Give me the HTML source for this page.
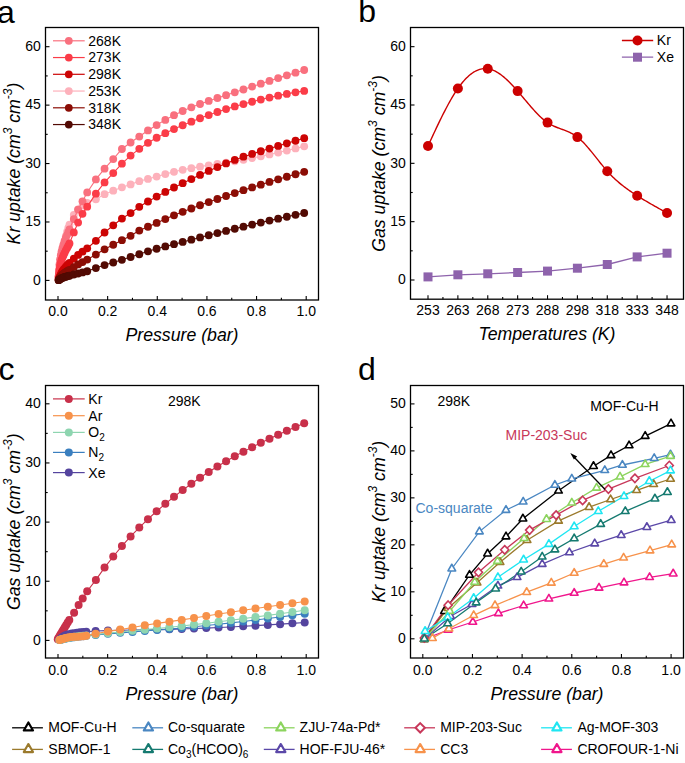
<!DOCTYPE html>
<html><head><meta charset="utf-8"><style>
html,body{margin:0;padding:0;background:#fff;}
svg{display:block;font-family:'Liberation Sans',sans-serif;}

</style></head><body>
<svg fill="#000" width="685" height="763" viewBox="0 0 685 763">
<rect width="685" height="763" fill="#fff"/>
<rect x="45.5" y="27.5" width="273.0" height="272.5" fill="none" stroke="#000" stroke-width="1.3"/>
<line x1="58.0" y1="300" x2="58.0" y2="296" stroke="#000" stroke-width="1.1"/>
<line x1="107.64" y1="300" x2="107.64" y2="296" stroke="#000" stroke-width="1.1"/>
<line x1="157.28" y1="300" x2="157.28" y2="296" stroke="#000" stroke-width="1.1"/>
<line x1="206.92" y1="300" x2="206.92" y2="296" stroke="#000" stroke-width="1.1"/>
<line x1="256.56" y1="300" x2="256.56" y2="296" stroke="#000" stroke-width="1.1"/>
<line x1="306.2" y1="300" x2="306.2" y2="296" stroke="#000" stroke-width="1.1"/>
<line x1="82.82" y1="300" x2="82.82" y2="297.8" stroke="#000" stroke-width="1.1"/>
<line x1="132.45999999999998" y1="300" x2="132.45999999999998" y2="297.8" stroke="#000" stroke-width="1.1"/>
<line x1="182.1" y1="300" x2="182.1" y2="297.8" stroke="#000" stroke-width="1.1"/>
<line x1="231.73999999999998" y1="300" x2="231.73999999999998" y2="297.8" stroke="#000" stroke-width="1.1"/>
<line x1="281.38" y1="300" x2="281.38" y2="297.8" stroke="#000" stroke-width="1.1"/>
<text x="58.0" y="315.7" font-size="14" text-anchor="middle">0.0</text>
<text x="107.64" y="315.7" font-size="14" text-anchor="middle">0.2</text>
<text x="157.28" y="315.7" font-size="14" text-anchor="middle">0.4</text>
<text x="206.92" y="315.7" font-size="14" text-anchor="middle">0.6</text>
<text x="256.56" y="315.7" font-size="14" text-anchor="middle">0.8</text>
<text x="306.2" y="315.7" font-size="14" text-anchor="middle">1.0</text>
<line x1="45.5" y1="280.4" x2="49.5" y2="280.4" stroke="#000" stroke-width="1.1"/>
<line x1="45.5" y1="221.97499999999997" x2="49.5" y2="221.97499999999997" stroke="#000" stroke-width="1.1"/>
<line x1="45.5" y1="163.54999999999998" x2="49.5" y2="163.54999999999998" stroke="#000" stroke-width="1.1"/>
<line x1="45.5" y1="105.12499999999997" x2="49.5" y2="105.12499999999997" stroke="#000" stroke-width="1.1"/>
<line x1="45.5" y1="46.69999999999999" x2="49.5" y2="46.69999999999999" stroke="#000" stroke-width="1.1"/>
<line x1="45.5" y1="251.18749999999997" x2="47.7" y2="251.18749999999997" stroke="#000" stroke-width="1.1"/>
<line x1="45.5" y1="192.7625" x2="47.7" y2="192.7625" stroke="#000" stroke-width="1.1"/>
<line x1="45.5" y1="134.33749999999998" x2="47.7" y2="134.33749999999998" stroke="#000" stroke-width="1.1"/>
<line x1="45.5" y1="75.91249999999997" x2="47.7" y2="75.91249999999997" stroke="#000" stroke-width="1.1"/>
<text x="40.9" y="284.70" font-size="14" text-anchor="end">0</text>
<text x="40.9" y="226.27" font-size="14" text-anchor="end">15</text>
<text x="40.9" y="167.85" font-size="14" text-anchor="end">30</text>
<text x="40.9" y="109.42" font-size="14" text-anchor="end">45</text>
<text x="40.9" y="51.00" font-size="14" text-anchor="end">60</text>
<text x="182" y="341" font-size="17.7" font-style="italic" text-anchor="middle">Pressure (bar)</text>
<text transform="translate(19.7,163.5) rotate(-90)" x="0" y="0" font-size="17.7" font-style="italic" text-anchor="middle">Kr uptake (cm<tspan dy="-7.5" font-size="12">3</tspan><tspan dy="7.5"> cm</tspan><tspan dy="-7.5" font-size="12">-3</tspan><tspan dy="7.5">)</tspan></text>
<text x="-3.1" y="23" font-size="32">a</text>
<polyline points="58.60,276.62 59.00,271.73 59.50,266.26 60.10,261.31 60.80,256.97 61.60,252.83 62.50,248.90 63.50,244.96 64.60,240.64 65.80,236.14 67.10,231.66 68.30,227.95 69.50,224.68 73.80,214.90 78.10,209.32 82.50,205.64 87.20,202.86 95.88,199.35 104.56,194.22 113.24,190.70 121.92,187.28 130.60,184.46 139.28,181.14 147.96,178.91 156.64,176.54 165.32,174.12 174.00,171.81 182.68,169.80 191.36,168.13 200.04,166.65 208.72,165.30 217.40,164.00 226.08,162.69 234.76,161.30 243.44,159.75 252.12,158.07 260.80,156.30 269.48,154.45 278.16,152.53 286.84,150.54 295.52,148.47 304.20,146.35" fill="none" stroke="#FDB1BB" stroke-width="1.1" stroke-opacity="1"/>
<circle cx="58.60" cy="276.62" r="3.9" fill="#FDB1BB"/>
<circle cx="59.00" cy="271.73" r="3.9" fill="#FDB1BB"/>
<circle cx="59.50" cy="266.26" r="3.9" fill="#FDB1BB"/>
<circle cx="60.10" cy="261.31" r="3.9" fill="#FDB1BB"/>
<circle cx="60.80" cy="256.97" r="3.9" fill="#FDB1BB"/>
<circle cx="61.60" cy="252.83" r="3.9" fill="#FDB1BB"/>
<circle cx="62.50" cy="248.90" r="3.9" fill="#FDB1BB"/>
<circle cx="63.50" cy="244.96" r="3.9" fill="#FDB1BB"/>
<circle cx="64.60" cy="240.64" r="3.9" fill="#FDB1BB"/>
<circle cx="65.80" cy="236.14" r="3.9" fill="#FDB1BB"/>
<circle cx="67.10" cy="231.66" r="3.9" fill="#FDB1BB"/>
<circle cx="68.30" cy="227.95" r="3.9" fill="#FDB1BB"/>
<circle cx="69.50" cy="224.68" r="3.9" fill="#FDB1BB"/>
<circle cx="73.80" cy="214.90" r="3.9" fill="#FDB1BB"/>
<circle cx="78.10" cy="209.32" r="3.9" fill="#FDB1BB"/>
<circle cx="82.50" cy="205.64" r="3.9" fill="#FDB1BB"/>
<circle cx="87.20" cy="202.86" r="3.9" fill="#FDB1BB"/>
<circle cx="95.88" cy="199.35" r="3.9" fill="#FDB1BB"/>
<circle cx="104.56" cy="194.22" r="3.9" fill="#FDB1BB"/>
<circle cx="113.24" cy="190.70" r="3.9" fill="#FDB1BB"/>
<circle cx="121.92" cy="187.28" r="3.9" fill="#FDB1BB"/>
<circle cx="130.60" cy="184.46" r="3.9" fill="#FDB1BB"/>
<circle cx="139.28" cy="181.14" r="3.9" fill="#FDB1BB"/>
<circle cx="147.96" cy="178.91" r="3.9" fill="#FDB1BB"/>
<circle cx="156.64" cy="176.54" r="3.9" fill="#FDB1BB"/>
<circle cx="165.32" cy="174.12" r="3.9" fill="#FDB1BB"/>
<circle cx="174.00" cy="171.81" r="3.9" fill="#FDB1BB"/>
<circle cx="182.68" cy="169.80" r="3.9" fill="#FDB1BB"/>
<circle cx="191.36" cy="168.13" r="3.9" fill="#FDB1BB"/>
<circle cx="200.04" cy="166.65" r="3.9" fill="#FDB1BB"/>
<circle cx="208.72" cy="165.30" r="3.9" fill="#FDB1BB"/>
<circle cx="217.40" cy="164.00" r="3.9" fill="#FDB1BB"/>
<circle cx="226.08" cy="162.69" r="3.9" fill="#FDB1BB"/>
<circle cx="234.76" cy="161.30" r="3.9" fill="#FDB1BB"/>
<circle cx="243.44" cy="159.75" r="3.9" fill="#FDB1BB"/>
<circle cx="252.12" cy="158.07" r="3.9" fill="#FDB1BB"/>
<circle cx="260.80" cy="156.30" r="3.9" fill="#FDB1BB"/>
<circle cx="269.48" cy="154.45" r="3.9" fill="#FDB1BB"/>
<circle cx="278.16" cy="152.53" r="3.9" fill="#FDB1BB"/>
<circle cx="286.84" cy="150.54" r="3.9" fill="#FDB1BB"/>
<circle cx="295.52" cy="148.47" r="3.9" fill="#FDB1BB"/>
<circle cx="304.20" cy="146.35" r="3.9" fill="#FDB1BB"/>
<polyline points="58.60,276.10 59.00,270.54 59.50,264.44 60.10,259.34 60.80,255.21 61.60,251.37 62.50,247.88 63.50,244.58 64.60,241.17 65.80,237.93 67.10,234.84 68.30,232.13 69.50,229.34 73.80,219.08 78.10,209.59 82.50,201.30 87.20,192.46 95.88,179.45 104.56,168.65 113.24,159.07 121.92,148.98 130.60,142.50 139.28,136.57 147.96,130.47 156.64,125.03 165.32,119.89 174.00,115.17 182.68,111.01 191.36,107.35 200.04,104.01 208.72,100.91 217.40,97.99 226.08,95.16 234.76,92.35 243.44,89.49 252.12,86.58 260.80,83.72 269.48,80.89 278.16,78.11 286.84,75.36 295.52,72.66 304.20,70.00" fill="none" stroke="#F9707E" stroke-width="1.1" stroke-opacity="1"/>
<circle cx="58.60" cy="276.10" r="3.9" fill="#F9707E"/>
<circle cx="59.00" cy="270.54" r="3.9" fill="#F9707E"/>
<circle cx="59.50" cy="264.44" r="3.9" fill="#F9707E"/>
<circle cx="60.10" cy="259.34" r="3.9" fill="#F9707E"/>
<circle cx="60.80" cy="255.21" r="3.9" fill="#F9707E"/>
<circle cx="61.60" cy="251.37" r="3.9" fill="#F9707E"/>
<circle cx="62.50" cy="247.88" r="3.9" fill="#F9707E"/>
<circle cx="63.50" cy="244.58" r="3.9" fill="#F9707E"/>
<circle cx="64.60" cy="241.17" r="3.9" fill="#F9707E"/>
<circle cx="65.80" cy="237.93" r="3.9" fill="#F9707E"/>
<circle cx="67.10" cy="234.84" r="3.9" fill="#F9707E"/>
<circle cx="68.30" cy="232.13" r="3.9" fill="#F9707E"/>
<circle cx="69.50" cy="229.34" r="3.9" fill="#F9707E"/>
<circle cx="73.80" cy="219.08" r="3.9" fill="#F9707E"/>
<circle cx="78.10" cy="209.59" r="3.9" fill="#F9707E"/>
<circle cx="82.50" cy="201.30" r="3.9" fill="#F9707E"/>
<circle cx="87.20" cy="192.46" r="3.9" fill="#F9707E"/>
<circle cx="95.88" cy="179.45" r="3.9" fill="#F9707E"/>
<circle cx="104.56" cy="168.65" r="3.9" fill="#F9707E"/>
<circle cx="113.24" cy="159.07" r="3.9" fill="#F9707E"/>
<circle cx="121.92" cy="148.98" r="3.9" fill="#F9707E"/>
<circle cx="130.60" cy="142.50" r="3.9" fill="#F9707E"/>
<circle cx="139.28" cy="136.57" r="3.9" fill="#F9707E"/>
<circle cx="147.96" cy="130.47" r="3.9" fill="#F9707E"/>
<circle cx="156.64" cy="125.03" r="3.9" fill="#F9707E"/>
<circle cx="165.32" cy="119.89" r="3.9" fill="#F9707E"/>
<circle cx="174.00" cy="115.17" r="3.9" fill="#F9707E"/>
<circle cx="182.68" cy="111.01" r="3.9" fill="#F9707E"/>
<circle cx="191.36" cy="107.35" r="3.9" fill="#F9707E"/>
<circle cx="200.04" cy="104.01" r="3.9" fill="#F9707E"/>
<circle cx="208.72" cy="100.91" r="3.9" fill="#F9707E"/>
<circle cx="217.40" cy="97.99" r="3.9" fill="#F9707E"/>
<circle cx="226.08" cy="95.16" r="3.9" fill="#F9707E"/>
<circle cx="234.76" cy="92.35" r="3.9" fill="#F9707E"/>
<circle cx="243.44" cy="89.49" r="3.9" fill="#F9707E"/>
<circle cx="252.12" cy="86.58" r="3.9" fill="#F9707E"/>
<circle cx="260.80" cy="83.72" r="3.9" fill="#F9707E"/>
<circle cx="269.48" cy="80.89" r="3.9" fill="#F9707E"/>
<circle cx="278.16" cy="78.11" r="3.9" fill="#F9707E"/>
<circle cx="286.84" cy="75.36" r="3.9" fill="#F9707E"/>
<circle cx="295.52" cy="72.66" r="3.9" fill="#F9707E"/>
<circle cx="304.20" cy="70.00" r="3.9" fill="#F9707E"/>
<polyline points="58.60,277.40 59.00,273.46 59.50,269.12 60.10,265.55 60.80,262.69 61.60,260.01 62.50,257.55 63.50,255.25 64.60,252.89 65.80,250.30 67.10,247.88 68.30,245.77 69.50,243.46 73.80,232.46 78.10,222.57 82.50,213.84 87.20,206.65 95.88,193.65 104.56,182.46 113.24,173.07 121.92,163.68 130.60,155.60 139.28,148.87 147.96,142.78 156.64,137.76 165.32,133.20 174.00,129.05 182.68,125.26 191.36,121.68 200.04,118.27 208.72,115.03 217.40,111.98 226.08,109.12 234.76,106.47 243.44,104.04 252.12,101.76 260.80,99.59 269.48,97.55 278.16,95.64 286.84,93.88 295.52,92.30 304.20,90.91" fill="none" stroke="#FB3C48" stroke-width="1.1" stroke-opacity="1"/>
<circle cx="58.60" cy="277.40" r="3.9" fill="#FB3C48"/>
<circle cx="59.00" cy="273.46" r="3.9" fill="#FB3C48"/>
<circle cx="59.50" cy="269.12" r="3.9" fill="#FB3C48"/>
<circle cx="60.10" cy="265.55" r="3.9" fill="#FB3C48"/>
<circle cx="60.80" cy="262.69" r="3.9" fill="#FB3C48"/>
<circle cx="61.60" cy="260.01" r="3.9" fill="#FB3C48"/>
<circle cx="62.50" cy="257.55" r="3.9" fill="#FB3C48"/>
<circle cx="63.50" cy="255.25" r="3.9" fill="#FB3C48"/>
<circle cx="64.60" cy="252.89" r="3.9" fill="#FB3C48"/>
<circle cx="65.80" cy="250.30" r="3.9" fill="#FB3C48"/>
<circle cx="67.10" cy="247.88" r="3.9" fill="#FB3C48"/>
<circle cx="68.30" cy="245.77" r="3.9" fill="#FB3C48"/>
<circle cx="69.50" cy="243.46" r="3.9" fill="#FB3C48"/>
<circle cx="73.80" cy="232.46" r="3.9" fill="#FB3C48"/>
<circle cx="78.10" cy="222.57" r="3.9" fill="#FB3C48"/>
<circle cx="82.50" cy="213.84" r="3.9" fill="#FB3C48"/>
<circle cx="87.20" cy="206.65" r="3.9" fill="#FB3C48"/>
<circle cx="95.88" cy="193.65" r="3.9" fill="#FB3C48"/>
<circle cx="104.56" cy="182.46" r="3.9" fill="#FB3C48"/>
<circle cx="113.24" cy="173.07" r="3.9" fill="#FB3C48"/>
<circle cx="121.92" cy="163.68" r="3.9" fill="#FB3C48"/>
<circle cx="130.60" cy="155.60" r="3.9" fill="#FB3C48"/>
<circle cx="139.28" cy="148.87" r="3.9" fill="#FB3C48"/>
<circle cx="147.96" cy="142.78" r="3.9" fill="#FB3C48"/>
<circle cx="156.64" cy="137.76" r="3.9" fill="#FB3C48"/>
<circle cx="165.32" cy="133.20" r="3.9" fill="#FB3C48"/>
<circle cx="174.00" cy="129.05" r="3.9" fill="#FB3C48"/>
<circle cx="182.68" cy="125.26" r="3.9" fill="#FB3C48"/>
<circle cx="191.36" cy="121.68" r="3.9" fill="#FB3C48"/>
<circle cx="200.04" cy="118.27" r="3.9" fill="#FB3C48"/>
<circle cx="208.72" cy="115.03" r="3.9" fill="#FB3C48"/>
<circle cx="217.40" cy="111.98" r="3.9" fill="#FB3C48"/>
<circle cx="226.08" cy="109.12" r="3.9" fill="#FB3C48"/>
<circle cx="234.76" cy="106.47" r="3.9" fill="#FB3C48"/>
<circle cx="243.44" cy="104.04" r="3.9" fill="#FB3C48"/>
<circle cx="252.12" cy="101.76" r="3.9" fill="#FB3C48"/>
<circle cx="260.80" cy="99.59" r="3.9" fill="#FB3C48"/>
<circle cx="269.48" cy="97.55" r="3.9" fill="#FB3C48"/>
<circle cx="278.16" cy="95.64" r="3.9" fill="#FB3C48"/>
<circle cx="286.84" cy="93.88" r="3.9" fill="#FB3C48"/>
<circle cx="295.52" cy="92.30" r="3.9" fill="#FB3C48"/>
<circle cx="304.20" cy="90.91" r="3.9" fill="#FB3C48"/>
<polyline points="58.60,279.62 59.00,278.58 59.50,277.32 60.10,275.86 60.80,274.28 61.60,272.69 62.50,271.21 63.50,269.76 64.60,268.32 65.80,266.90 67.10,265.49 68.30,264.25 69.50,263.02 73.80,258.71 78.10,254.92 82.50,251.71 87.20,248.30 95.88,240.78 104.56,232.49 113.24,225.35 121.92,218.55 130.60,213.10 139.28,206.78 147.96,201.49 156.64,196.62 165.32,191.95 174.00,187.48 182.68,183.21 191.36,179.05 200.04,174.94 208.72,170.94 217.40,167.08 226.08,163.39 234.76,159.92 243.44,156.72 252.12,153.96 260.80,151.26 269.48,148.58 278.16,145.93 286.84,143.32 295.52,140.74 304.20,138.20" fill="none" stroke="#CC0404" stroke-width="1.1" stroke-opacity="1"/>
<circle cx="58.60" cy="279.62" r="3.9" fill="#CC0404"/>
<circle cx="59.00" cy="278.58" r="3.9" fill="#CC0404"/>
<circle cx="59.50" cy="277.32" r="3.9" fill="#CC0404"/>
<circle cx="60.10" cy="275.86" r="3.9" fill="#CC0404"/>
<circle cx="60.80" cy="274.28" r="3.9" fill="#CC0404"/>
<circle cx="61.60" cy="272.69" r="3.9" fill="#CC0404"/>
<circle cx="62.50" cy="271.21" r="3.9" fill="#CC0404"/>
<circle cx="63.50" cy="269.76" r="3.9" fill="#CC0404"/>
<circle cx="64.60" cy="268.32" r="3.9" fill="#CC0404"/>
<circle cx="65.80" cy="266.90" r="3.9" fill="#CC0404"/>
<circle cx="67.10" cy="265.49" r="3.9" fill="#CC0404"/>
<circle cx="68.30" cy="264.25" r="3.9" fill="#CC0404"/>
<circle cx="69.50" cy="263.02" r="3.9" fill="#CC0404"/>
<circle cx="73.80" cy="258.71" r="3.9" fill="#CC0404"/>
<circle cx="78.10" cy="254.92" r="3.9" fill="#CC0404"/>
<circle cx="82.50" cy="251.71" r="3.9" fill="#CC0404"/>
<circle cx="87.20" cy="248.30" r="3.9" fill="#CC0404"/>
<circle cx="95.88" cy="240.78" r="3.9" fill="#CC0404"/>
<circle cx="104.56" cy="232.49" r="3.9" fill="#CC0404"/>
<circle cx="113.24" cy="225.35" r="3.9" fill="#CC0404"/>
<circle cx="121.92" cy="218.55" r="3.9" fill="#CC0404"/>
<circle cx="130.60" cy="213.10" r="3.9" fill="#CC0404"/>
<circle cx="139.28" cy="206.78" r="3.9" fill="#CC0404"/>
<circle cx="147.96" cy="201.49" r="3.9" fill="#CC0404"/>
<circle cx="156.64" cy="196.62" r="3.9" fill="#CC0404"/>
<circle cx="165.32" cy="191.95" r="3.9" fill="#CC0404"/>
<circle cx="174.00" cy="187.48" r="3.9" fill="#CC0404"/>
<circle cx="182.68" cy="183.21" r="3.9" fill="#CC0404"/>
<circle cx="191.36" cy="179.05" r="3.9" fill="#CC0404"/>
<circle cx="200.04" cy="174.94" r="3.9" fill="#CC0404"/>
<circle cx="208.72" cy="170.94" r="3.9" fill="#CC0404"/>
<circle cx="217.40" cy="167.08" r="3.9" fill="#CC0404"/>
<circle cx="226.08" cy="163.39" r="3.9" fill="#CC0404"/>
<circle cx="234.76" cy="159.92" r="3.9" fill="#CC0404"/>
<circle cx="243.44" cy="156.72" r="3.9" fill="#CC0404"/>
<circle cx="252.12" cy="153.96" r="3.9" fill="#CC0404"/>
<circle cx="260.80" cy="151.26" r="3.9" fill="#CC0404"/>
<circle cx="269.48" cy="148.58" r="3.9" fill="#CC0404"/>
<circle cx="278.16" cy="145.93" r="3.9" fill="#CC0404"/>
<circle cx="286.84" cy="143.32" r="3.9" fill="#CC0404"/>
<circle cx="295.52" cy="140.74" r="3.9" fill="#CC0404"/>
<circle cx="304.20" cy="138.20" r="3.9" fill="#CC0404"/>
<polyline points="58.60,279.89 59.00,279.21 59.50,278.39 60.10,277.44 60.80,276.42 61.60,275.42 62.50,274.53 63.50,273.67 64.60,272.85 65.80,272.05 67.10,271.26 68.30,270.55 69.50,269.82 73.80,267.05 78.10,264.44 82.50,262.10 87.20,259.62 95.88,254.59 104.56,249.34 113.24,244.73 121.92,240.19 130.60,235.80 139.28,230.61 147.96,226.74 156.64,222.90 165.32,219.07 174.00,215.35 182.68,211.83 191.36,208.49 200.04,205.24 208.72,202.09 217.40,199.01 226.08,196.01 234.76,193.08 243.44,190.21 252.12,187.39 260.80,184.63 269.48,181.94 278.16,179.31 286.84,176.76 295.52,174.26 304.20,171.83" fill="none" stroke="#8B0D05" stroke-width="1.1" stroke-opacity="1"/>
<circle cx="58.60" cy="279.89" r="3.9" fill="#8B0D05"/>
<circle cx="59.00" cy="279.21" r="3.9" fill="#8B0D05"/>
<circle cx="59.50" cy="278.39" r="3.9" fill="#8B0D05"/>
<circle cx="60.10" cy="277.44" r="3.9" fill="#8B0D05"/>
<circle cx="60.80" cy="276.42" r="3.9" fill="#8B0D05"/>
<circle cx="61.60" cy="275.42" r="3.9" fill="#8B0D05"/>
<circle cx="62.50" cy="274.53" r="3.9" fill="#8B0D05"/>
<circle cx="63.50" cy="273.67" r="3.9" fill="#8B0D05"/>
<circle cx="64.60" cy="272.85" r="3.9" fill="#8B0D05"/>
<circle cx="65.80" cy="272.05" r="3.9" fill="#8B0D05"/>
<circle cx="67.10" cy="271.26" r="3.9" fill="#8B0D05"/>
<circle cx="68.30" cy="270.55" r="3.9" fill="#8B0D05"/>
<circle cx="69.50" cy="269.82" r="3.9" fill="#8B0D05"/>
<circle cx="73.80" cy="267.05" r="3.9" fill="#8B0D05"/>
<circle cx="78.10" cy="264.44" r="3.9" fill="#8B0D05"/>
<circle cx="82.50" cy="262.10" r="3.9" fill="#8B0D05"/>
<circle cx="87.20" cy="259.62" r="3.9" fill="#8B0D05"/>
<circle cx="95.88" cy="254.59" r="3.9" fill="#8B0D05"/>
<circle cx="104.56" cy="249.34" r="3.9" fill="#8B0D05"/>
<circle cx="113.24" cy="244.73" r="3.9" fill="#8B0D05"/>
<circle cx="121.92" cy="240.19" r="3.9" fill="#8B0D05"/>
<circle cx="130.60" cy="235.80" r="3.9" fill="#8B0D05"/>
<circle cx="139.28" cy="230.61" r="3.9" fill="#8B0D05"/>
<circle cx="147.96" cy="226.74" r="3.9" fill="#8B0D05"/>
<circle cx="156.64" cy="222.90" r="3.9" fill="#8B0D05"/>
<circle cx="165.32" cy="219.07" r="3.9" fill="#8B0D05"/>
<circle cx="174.00" cy="215.35" r="3.9" fill="#8B0D05"/>
<circle cx="182.68" cy="211.83" r="3.9" fill="#8B0D05"/>
<circle cx="191.36" cy="208.49" r="3.9" fill="#8B0D05"/>
<circle cx="200.04" cy="205.24" r="3.9" fill="#8B0D05"/>
<circle cx="208.72" cy="202.09" r="3.9" fill="#8B0D05"/>
<circle cx="217.40" cy="199.01" r="3.9" fill="#8B0D05"/>
<circle cx="226.08" cy="196.01" r="3.9" fill="#8B0D05"/>
<circle cx="234.76" cy="193.08" r="3.9" fill="#8B0D05"/>
<circle cx="243.44" cy="190.21" r="3.9" fill="#8B0D05"/>
<circle cx="252.12" cy="187.39" r="3.9" fill="#8B0D05"/>
<circle cx="260.80" cy="184.63" r="3.9" fill="#8B0D05"/>
<circle cx="269.48" cy="181.94" r="3.9" fill="#8B0D05"/>
<circle cx="278.16" cy="179.31" r="3.9" fill="#8B0D05"/>
<circle cx="286.84" cy="176.76" r="3.9" fill="#8B0D05"/>
<circle cx="295.52" cy="174.26" r="3.9" fill="#8B0D05"/>
<circle cx="304.20" cy="171.83" r="3.9" fill="#8B0D05"/>
<polyline points="58.60,280.17 59.00,279.87 59.50,279.51 60.10,279.09 60.80,278.64 61.60,278.19 62.50,277.79 63.50,277.40 64.60,277.02 65.80,276.65 67.10,276.28 68.30,275.96 69.50,275.64 73.80,274.52 78.10,273.48 82.50,272.46 87.20,271.25 95.88,268.04 104.56,265.06 113.24,262.52 121.92,259.83 130.60,257.00 139.28,254.24 147.96,251.29 156.64,248.76 165.32,246.42 174.00,244.18 182.68,241.95 191.36,239.70 200.04,237.46 208.72,235.24 217.40,233.05 226.08,230.89 234.76,228.75 243.44,226.65 252.12,224.60 260.80,222.58 269.48,220.60 278.16,218.65 286.84,216.74 295.52,214.86 304.20,213.02" fill="none" stroke="#520A03" stroke-width="1.1" stroke-opacity="1"/>
<circle cx="58.60" cy="280.17" r="3.9" fill="#520A03"/>
<circle cx="59.00" cy="279.87" r="3.9" fill="#520A03"/>
<circle cx="59.50" cy="279.51" r="3.9" fill="#520A03"/>
<circle cx="60.10" cy="279.09" r="3.9" fill="#520A03"/>
<circle cx="60.80" cy="278.64" r="3.9" fill="#520A03"/>
<circle cx="61.60" cy="278.19" r="3.9" fill="#520A03"/>
<circle cx="62.50" cy="277.79" r="3.9" fill="#520A03"/>
<circle cx="63.50" cy="277.40" r="3.9" fill="#520A03"/>
<circle cx="64.60" cy="277.02" r="3.9" fill="#520A03"/>
<circle cx="65.80" cy="276.65" r="3.9" fill="#520A03"/>
<circle cx="67.10" cy="276.28" r="3.9" fill="#520A03"/>
<circle cx="68.30" cy="275.96" r="3.9" fill="#520A03"/>
<circle cx="69.50" cy="275.64" r="3.9" fill="#520A03"/>
<circle cx="73.80" cy="274.52" r="3.9" fill="#520A03"/>
<circle cx="78.10" cy="273.48" r="3.9" fill="#520A03"/>
<circle cx="82.50" cy="272.46" r="3.9" fill="#520A03"/>
<circle cx="87.20" cy="271.25" r="3.9" fill="#520A03"/>
<circle cx="95.88" cy="268.04" r="3.9" fill="#520A03"/>
<circle cx="104.56" cy="265.06" r="3.9" fill="#520A03"/>
<circle cx="113.24" cy="262.52" r="3.9" fill="#520A03"/>
<circle cx="121.92" cy="259.83" r="3.9" fill="#520A03"/>
<circle cx="130.60" cy="257.00" r="3.9" fill="#520A03"/>
<circle cx="139.28" cy="254.24" r="3.9" fill="#520A03"/>
<circle cx="147.96" cy="251.29" r="3.9" fill="#520A03"/>
<circle cx="156.64" cy="248.76" r="3.9" fill="#520A03"/>
<circle cx="165.32" cy="246.42" r="3.9" fill="#520A03"/>
<circle cx="174.00" cy="244.18" r="3.9" fill="#520A03"/>
<circle cx="182.68" cy="241.95" r="3.9" fill="#520A03"/>
<circle cx="191.36" cy="239.70" r="3.9" fill="#520A03"/>
<circle cx="200.04" cy="237.46" r="3.9" fill="#520A03"/>
<circle cx="208.72" cy="235.24" r="3.9" fill="#520A03"/>
<circle cx="217.40" cy="233.05" r="3.9" fill="#520A03"/>
<circle cx="226.08" cy="230.89" r="3.9" fill="#520A03"/>
<circle cx="234.76" cy="228.75" r="3.9" fill="#520A03"/>
<circle cx="243.44" cy="226.65" r="3.9" fill="#520A03"/>
<circle cx="252.12" cy="224.60" r="3.9" fill="#520A03"/>
<circle cx="260.80" cy="222.58" r="3.9" fill="#520A03"/>
<circle cx="269.48" cy="220.60" r="3.9" fill="#520A03"/>
<circle cx="278.16" cy="218.65" r="3.9" fill="#520A03"/>
<circle cx="286.84" cy="216.74" r="3.9" fill="#520A03"/>
<circle cx="295.52" cy="214.86" r="3.9" fill="#520A03"/>
<circle cx="304.20" cy="213.02" r="3.9" fill="#520A03"/>
<line x1="53" y1="40.8" x2="84.7" y2="40.8" stroke="#F9707E" stroke-width="1.2"/>
<circle cx="68.8" cy="40.8" r="3.9" fill="#F9707E"/>
<text x="88.3" y="45.70" font-size="14">268K</text>
<line x1="53" y1="57.55" x2="84.7" y2="57.55" stroke="#FB3C48" stroke-width="1.2"/>
<circle cx="68.8" cy="57.55" r="3.9" fill="#FB3C48"/>
<text x="88.3" y="62.45" font-size="14">273K</text>
<line x1="53" y1="74.3" x2="84.7" y2="74.3" stroke="#CC0404" stroke-width="1.2"/>
<circle cx="68.8" cy="74.3" r="3.9" fill="#CC0404"/>
<text x="88.3" y="79.20" font-size="14">298K</text>
<line x1="53" y1="91.05" x2="84.7" y2="91.05" stroke="#FDB1BB" stroke-width="1.2"/>
<circle cx="68.8" cy="91.05" r="3.9" fill="#FDB1BB"/>
<text x="88.3" y="95.95" font-size="14">253K</text>
<line x1="53" y1="107.8" x2="84.7" y2="107.8" stroke="#8B0D05" stroke-width="1.2"/>
<circle cx="68.8" cy="107.8" r="3.9" fill="#8B0D05"/>
<text x="88.3" y="112.70" font-size="14">318K</text>
<line x1="53" y1="124.55" x2="84.7" y2="124.55" stroke="#520A03" stroke-width="1.2"/>
<circle cx="68.8" cy="124.55" r="3.9" fill="#520A03"/>
<text x="88.3" y="129.45" font-size="14">348K</text>
<rect x="410.5" y="27.5" width="273.0" height="271.7" fill="none" stroke="#000" stroke-width="1.3"/>
<line x1="428.0" y1="299.2" x2="428.0" y2="295.2" stroke="#000" stroke-width="1.1"/>
<line x1="457.88" y1="299.2" x2="457.88" y2="295.2" stroke="#000" stroke-width="1.1"/>
<line x1="487.76" y1="299.2" x2="487.76" y2="295.2" stroke="#000" stroke-width="1.1"/>
<line x1="517.64" y1="299.2" x2="517.64" y2="295.2" stroke="#000" stroke-width="1.1"/>
<line x1="547.52" y1="299.2" x2="547.52" y2="295.2" stroke="#000" stroke-width="1.1"/>
<line x1="577.4" y1="299.2" x2="577.4" y2="295.2" stroke="#000" stroke-width="1.1"/>
<line x1="607.28" y1="299.2" x2="607.28" y2="295.2" stroke="#000" stroke-width="1.1"/>
<line x1="637.16" y1="299.2" x2="637.16" y2="295.2" stroke="#000" stroke-width="1.1"/>
<line x1="667.04" y1="299.2" x2="667.04" y2="295.2" stroke="#000" stroke-width="1.1"/>
<line x1="442.94" y1="299.2" x2="442.94" y2="297.0" stroke="#000" stroke-width="1.1"/>
<line x1="472.82" y1="299.2" x2="472.82" y2="297.0" stroke="#000" stroke-width="1.1"/>
<line x1="502.7" y1="299.2" x2="502.7" y2="297.0" stroke="#000" stroke-width="1.1"/>
<line x1="532.58" y1="299.2" x2="532.58" y2="297.0" stroke="#000" stroke-width="1.1"/>
<line x1="562.46" y1="299.2" x2="562.46" y2="297.0" stroke="#000" stroke-width="1.1"/>
<line x1="592.34" y1="299.2" x2="592.34" y2="297.0" stroke="#000" stroke-width="1.1"/>
<line x1="622.22" y1="299.2" x2="622.22" y2="297.0" stroke="#000" stroke-width="1.1"/>
<line x1="652.1" y1="299.2" x2="652.1" y2="297.0" stroke="#000" stroke-width="1.1"/>
<text x="428.0" y="315.3" font-size="14" text-anchor="middle">253</text>
<text x="457.88" y="315.3" font-size="14" text-anchor="middle">263</text>
<text x="487.76" y="315.3" font-size="14" text-anchor="middle">268</text>
<text x="517.64" y="315.3" font-size="14" text-anchor="middle">273</text>
<text x="547.52" y="315.3" font-size="14" text-anchor="middle">288</text>
<text x="577.4" y="315.3" font-size="14" text-anchor="middle">298</text>
<text x="607.28" y="315.3" font-size="14" text-anchor="middle">318</text>
<text x="637.16" y="315.3" font-size="14" text-anchor="middle">333</text>
<text x="667.04" y="315.3" font-size="14" text-anchor="middle">348</text>
<line x1="410.5" y1="280.0" x2="414.5" y2="280.0" stroke="#000" stroke-width="1.1"/>
<line x1="410.5" y1="221.66500000000002" x2="414.5" y2="221.66500000000002" stroke="#000" stroke-width="1.1"/>
<line x1="410.5" y1="163.33" x2="414.5" y2="163.33" stroke="#000" stroke-width="1.1"/>
<line x1="410.5" y1="104.995" x2="414.5" y2="104.995" stroke="#000" stroke-width="1.1"/>
<line x1="410.5" y1="46.660000000000025" x2="414.5" y2="46.660000000000025" stroke="#000" stroke-width="1.1"/>
<line x1="410.5" y1="250.8325" x2="412.7" y2="250.8325" stroke="#000" stroke-width="1.1"/>
<line x1="410.5" y1="192.4975" x2="412.7" y2="192.4975" stroke="#000" stroke-width="1.1"/>
<line x1="410.5" y1="134.1625" x2="412.7" y2="134.1625" stroke="#000" stroke-width="1.1"/>
<line x1="410.5" y1="75.82750000000001" x2="412.7" y2="75.82750000000001" stroke="#000" stroke-width="1.1"/>
<text x="405.8" y="284.30" font-size="14" text-anchor="end">0</text>
<text x="405.8" y="225.97" font-size="14" text-anchor="end">15</text>
<text x="405.8" y="167.63" font-size="14" text-anchor="end">30</text>
<text x="405.8" y="109.30" font-size="14" text-anchor="end">45</text>
<text x="405.8" y="50.96" font-size="14" text-anchor="end">60</text>
<text x="547" y="340" font-size="17.7" font-style="italic" text-anchor="middle">Temperatures (K)</text>
<text transform="translate(384.5,163.5) rotate(-90)" x="0" y="0" font-size="17.7" font-style="italic" text-anchor="middle">Gas uptake (cm<tspan dy="-7.5" font-size="12">3</tspan><tspan dy="7.5"> cm</tspan><tspan dy="-7.5" font-size="12">-3</tspan><tspan dy="7.5">)</tspan></text>
<text x="358.3" y="22.3" font-size="32">b</text>
<polyline points="428.00,146.00 429.20,143.39 430.40,140.79 431.60,138.19 432.80,135.60 434.01,133.02 435.21,130.46 436.41,127.91 437.61,125.38 438.81,122.88 440.01,120.40 441.21,117.95 442.41,115.54 443.62,113.15 444.82,110.81 446.02,108.50 447.22,106.24 448.42,104.02 449.62,101.85 450.82,99.74 452.02,97.68 453.23,95.67 454.43,93.73 455.63,91.85 456.83,90.03 458.03,88.29 459.23,86.61 460.43,85.01 461.63,83.48 462.83,82.02 464.04,80.63 465.24,79.32 466.44,78.08 467.64,76.92 468.84,75.83 470.04,74.81 471.24,73.87 472.44,73.00 473.65,72.21 474.85,71.50 476.05,70.86 477.25,70.30 478.45,69.81 479.65,69.40 480.85,69.07 482.05,68.82 483.26,68.65 484.46,68.55 485.66,68.54 486.86,68.60 488.06,68.74 489.26,68.97 490.46,69.26 491.66,69.64 492.87,70.08 494.07,70.60 495.27,71.18 496.47,71.82 497.67,72.53 498.87,73.30 500.07,74.12 501.27,75.00 502.47,75.93 503.68,76.91 504.88,77.94 506.08,79.01 507.28,80.12 508.48,81.27 509.68,82.46 510.88,83.69 512.08,84.94 513.29,86.23 514.49,87.54 515.69,88.88 516.89,90.24 518.09,91.62 519.29,93.02 520.49,94.43 521.69,95.85 522.90,97.27 524.10,98.70 525.30,100.14 526.50,101.56 527.70,102.99 528.90,104.40 530.10,105.80 531.30,107.18 532.50,108.54 533.71,109.89 534.91,111.20 536.11,112.49 537.31,113.74 538.51,114.96 539.71,116.13 540.91,117.27 542.11,118.36 543.32,119.40 544.52,120.38 545.72,121.31 546.92,122.19 548.12,123.00 549.32,123.75 550.52,124.44 551.72,125.08 552.93,125.68 554.13,126.24 555.33,126.76 556.53,127.26 557.73,127.73 558.93,128.19 560.13,128.64 561.33,129.08 562.54,129.52 563.74,129.96 564.94,130.41 566.14,130.88 567.34,131.38 568.54,131.90 569.74,132.45 570.94,133.04 572.14,133.67 573.35,134.36 574.55,135.09 575.75,135.89 576.95,136.76 578.15,137.69 579.35,138.70 580.55,139.77 581.75,140.90 582.96,142.10 584.16,143.34 585.36,144.63 586.56,145.96 587.76,147.34 588.96,148.74 590.16,150.18 591.36,151.64 592.57,153.13 593.77,154.62 594.97,156.13 596.17,157.65 597.37,159.17 598.57,160.69 599.77,162.20 600.97,163.70 602.17,165.18 603.38,166.64 604.58,168.08 605.78,169.49 606.98,170.86 608.18,172.20 609.38,173.50 610.58,174.76 611.78,175.98 612.99,177.17 614.19,178.32 615.39,179.44 616.59,180.54 617.79,181.60 618.99,182.63 620.19,183.64 621.39,184.62 622.60,185.57 623.80,186.51 625.00,187.42 626.20,188.31 627.40,189.18 628.60,190.03 629.80,190.87 631.00,191.69 632.21,192.50 633.41,193.29 634.61,194.07 635.81,194.84 637.01,195.61 638.21,196.36 639.41,197.11 640.61,197.85 641.81,198.58 643.02,199.31 644.22,200.03 645.42,200.75 646.62,201.46 647.82,202.16 649.02,202.87 650.22,203.56 651.42,204.25 652.63,204.94 653.83,205.63 655.03,206.31 656.23,206.98 657.43,207.66 658.63,208.33 659.83,209.00 661.03,209.67 662.24,210.34 663.44,211.01 664.64,211.67 665.84,212.34 667.04,213.00" fill="none" stroke="#CC0000" stroke-width="1.4" stroke-opacity="1"/>
<circle cx="428.00" cy="146.00" r="5.0" fill="#CC0000"/>
<circle cx="457.88" cy="88.50" r="5.0" fill="#CC0000"/>
<circle cx="487.76" cy="68.70" r="5.0" fill="#CC0000"/>
<circle cx="517.64" cy="91.10" r="5.0" fill="#CC0000"/>
<circle cx="547.52" cy="122.60" r="5.0" fill="#CC0000"/>
<circle cx="577.40" cy="137.10" r="5.0" fill="#CC0000"/>
<circle cx="607.28" cy="171.20" r="5.0" fill="#CC0000"/>
<circle cx="637.16" cy="195.70" r="5.0" fill="#CC0000"/>
<circle cx="667.04" cy="213.00" r="5.0" fill="#CC0000"/>
<polyline points="428.00,276.90 457.88,274.80 487.76,273.80 517.64,272.50 547.52,271.10 577.40,268.20 607.28,264.50 637.16,256.90 667.04,253.20" fill="none" stroke="#8E63AC" stroke-width="1.3" stroke-opacity="1"/>
<rect x="423.50" y="272.40" width="9" height="9" fill="#8E63AC"/>
<rect x="453.38" y="270.30" width="9" height="9" fill="#8E63AC"/>
<rect x="483.26" y="269.30" width="9" height="9" fill="#8E63AC"/>
<rect x="513.14" y="268.00" width="9" height="9" fill="#8E63AC"/>
<rect x="543.02" y="266.60" width="9" height="9" fill="#8E63AC"/>
<rect x="572.90" y="263.70" width="9" height="9" fill="#8E63AC"/>
<rect x="602.78" y="260.00" width="9" height="9" fill="#8E63AC"/>
<rect x="632.66" y="252.40" width="9" height="9" fill="#8E63AC"/>
<rect x="662.54" y="248.70" width="9" height="9" fill="#8E63AC"/>
<line x1="621.9" y1="40.5" x2="653.2" y2="40.5" stroke="#CC0000" stroke-width="1.3"/>
<circle cx="637.5" cy="40.5" r="5" fill="#CC0000"/>
<text x="656.8" y="45.2" font-size="14">Kr</text>
<line x1="621.9" y1="57.2" x2="653.2" y2="57.2" stroke="#8E63AC" stroke-width="1.3"/>
<rect x="633" y="52.7" width="9" height="9" fill="#8E63AC"/>
<text x="656.8" y="61.9" font-size="14">Xe</text>
<rect x="45.5" y="385.5" width="273.0" height="272.5" fill="none" stroke="#000" stroke-width="1.3"/>
<line x1="58.0" y1="658" x2="58.0" y2="654" stroke="#000" stroke-width="1.1"/>
<line x1="107.64" y1="658" x2="107.64" y2="654" stroke="#000" stroke-width="1.1"/>
<line x1="157.28" y1="658" x2="157.28" y2="654" stroke="#000" stroke-width="1.1"/>
<line x1="206.92" y1="658" x2="206.92" y2="654" stroke="#000" stroke-width="1.1"/>
<line x1="256.56" y1="658" x2="256.56" y2="654" stroke="#000" stroke-width="1.1"/>
<line x1="306.2" y1="658" x2="306.2" y2="654" stroke="#000" stroke-width="1.1"/>
<line x1="82.82" y1="658" x2="82.82" y2="655.8" stroke="#000" stroke-width="1.1"/>
<line x1="132.45999999999998" y1="658" x2="132.45999999999998" y2="655.8" stroke="#000" stroke-width="1.1"/>
<line x1="182.1" y1="658" x2="182.1" y2="655.8" stroke="#000" stroke-width="1.1"/>
<line x1="231.73999999999998" y1="658" x2="231.73999999999998" y2="655.8" stroke="#000" stroke-width="1.1"/>
<line x1="281.38" y1="658" x2="281.38" y2="655.8" stroke="#000" stroke-width="1.1"/>
<text x="58.0" y="675.2" font-size="14" text-anchor="middle">0.0</text>
<text x="107.64" y="675.2" font-size="14" text-anchor="middle">0.2</text>
<text x="157.28" y="675.2" font-size="14" text-anchor="middle">0.4</text>
<text x="206.92" y="675.2" font-size="14" text-anchor="middle">0.6</text>
<text x="256.56" y="675.2" font-size="14" text-anchor="middle">0.8</text>
<text x="306.2" y="675.2" font-size="14" text-anchor="middle">1.0</text>
<line x1="45.5" y1="640.4" x2="49.5" y2="640.4" stroke="#000" stroke-width="1.1"/>
<line x1="45.5" y1="581.25" x2="49.5" y2="581.25" stroke="#000" stroke-width="1.1"/>
<line x1="45.5" y1="522.1" x2="49.5" y2="522.1" stroke="#000" stroke-width="1.1"/>
<line x1="45.5" y1="462.95" x2="49.5" y2="462.95" stroke="#000" stroke-width="1.1"/>
<line x1="45.5" y1="403.79999999999995" x2="49.5" y2="403.79999999999995" stroke="#000" stroke-width="1.1"/>
<line x1="45.5" y1="610.8249999999999" x2="47.7" y2="610.8249999999999" stroke="#000" stroke-width="1.1"/>
<line x1="45.5" y1="551.675" x2="47.7" y2="551.675" stroke="#000" stroke-width="1.1"/>
<line x1="45.5" y1="492.525" x2="47.7" y2="492.525" stroke="#000" stroke-width="1.1"/>
<line x1="45.5" y1="433.375" x2="47.7" y2="433.375" stroke="#000" stroke-width="1.1"/>
<text x="40.9" y="644.70" font-size="14" text-anchor="end">0</text>
<text x="40.9" y="585.55" font-size="14" text-anchor="end">10</text>
<text x="40.9" y="526.40" font-size="14" text-anchor="end">20</text>
<text x="40.9" y="467.25" font-size="14" text-anchor="end">30</text>
<text x="40.9" y="408.10" font-size="14" text-anchor="end">40</text>
<text x="182" y="700" font-size="17.7" font-style="italic" text-anchor="middle">Pressure (bar)</text>
<text transform="translate(19.7,521.7) rotate(-90)" x="0" y="0" font-size="17.7" font-style="italic" text-anchor="middle">Gas uptake (cm<tspan dy="-7.5" font-size="12">3</tspan><tspan dy="7.5"> cm</tspan><tspan dy="-7.5" font-size="12">-3</tspan><tspan dy="7.5">)</tspan></text>
<text x="-1.5" y="380.4" font-size="32">c</text>
<text x="168" y="406.3" font-size="14">298K</text>
<polyline points="57.80,639.30 58.50,638.06 59.30,636.66 60.20,635.10 61.20,633.39 62.30,631.52 63.50,629.50 64.80,627.34 66.20,625.05 67.70,622.62 69.30,620.06 74.10,612.70 78.60,605.10 82.70,598.40 87.20,591.20 95.88,579.94 104.56,567.59 113.24,556.49 121.92,546.09 130.60,536.49 139.28,527.57 147.96,519.18 156.64,511.28 165.32,503.82 174.00,496.77 182.68,490.09 191.36,483.76 200.04,477.74 208.72,471.99 217.40,466.51 226.08,461.29 234.76,456.33 243.44,451.64 252.12,447.17 260.80,442.87 269.48,438.70 278.16,434.63 286.84,430.69 295.52,426.88 304.20,423.20" fill="none" stroke="#C8304A" stroke-width="1.1" stroke-opacity="1"/>
<circle cx="57.80" cy="639.30" r="4.0" fill="#C8304A"/>
<circle cx="58.50" cy="638.06" r="4.0" fill="#C8304A"/>
<circle cx="59.30" cy="636.66" r="4.0" fill="#C8304A"/>
<circle cx="60.20" cy="635.10" r="4.0" fill="#C8304A"/>
<circle cx="61.20" cy="633.39" r="4.0" fill="#C8304A"/>
<circle cx="62.30" cy="631.52" r="4.0" fill="#C8304A"/>
<circle cx="63.50" cy="629.50" r="4.0" fill="#C8304A"/>
<circle cx="64.80" cy="627.34" r="4.0" fill="#C8304A"/>
<circle cx="66.20" cy="625.05" r="4.0" fill="#C8304A"/>
<circle cx="67.70" cy="622.62" r="4.0" fill="#C8304A"/>
<circle cx="69.30" cy="620.06" r="4.0" fill="#C8304A"/>
<circle cx="74.10" cy="612.70" r="4.0" fill="#C8304A"/>
<circle cx="78.60" cy="605.10" r="4.0" fill="#C8304A"/>
<circle cx="82.70" cy="598.40" r="4.0" fill="#C8304A"/>
<circle cx="87.20" cy="591.20" r="4.0" fill="#C8304A"/>
<circle cx="95.88" cy="579.94" r="4.0" fill="#C8304A"/>
<circle cx="104.56" cy="567.59" r="4.0" fill="#C8304A"/>
<circle cx="113.24" cy="556.49" r="4.0" fill="#C8304A"/>
<circle cx="121.92" cy="546.09" r="4.0" fill="#C8304A"/>
<circle cx="130.60" cy="536.49" r="4.0" fill="#C8304A"/>
<circle cx="139.28" cy="527.57" r="4.0" fill="#C8304A"/>
<circle cx="147.96" cy="519.18" r="4.0" fill="#C8304A"/>
<circle cx="156.64" cy="511.28" r="4.0" fill="#C8304A"/>
<circle cx="165.32" cy="503.82" r="4.0" fill="#C8304A"/>
<circle cx="174.00" cy="496.77" r="4.0" fill="#C8304A"/>
<circle cx="182.68" cy="490.09" r="4.0" fill="#C8304A"/>
<circle cx="191.36" cy="483.76" r="4.0" fill="#C8304A"/>
<circle cx="200.04" cy="477.74" r="4.0" fill="#C8304A"/>
<circle cx="208.72" cy="471.99" r="4.0" fill="#C8304A"/>
<circle cx="217.40" cy="466.51" r="4.0" fill="#C8304A"/>
<circle cx="226.08" cy="461.29" r="4.0" fill="#C8304A"/>
<circle cx="234.76" cy="456.33" r="4.0" fill="#C8304A"/>
<circle cx="243.44" cy="451.64" r="4.0" fill="#C8304A"/>
<circle cx="252.12" cy="447.17" r="4.0" fill="#C8304A"/>
<circle cx="260.80" cy="442.87" r="4.0" fill="#C8304A"/>
<circle cx="269.48" cy="438.70" r="4.0" fill="#C8304A"/>
<circle cx="278.16" cy="434.63" r="4.0" fill="#C8304A"/>
<circle cx="286.84" cy="430.69" r="4.0" fill="#C8304A"/>
<circle cx="295.52" cy="426.88" r="4.0" fill="#C8304A"/>
<circle cx="304.20" cy="423.20" r="4.0" fill="#C8304A"/>
<polyline points="59.50,639.71 60.50,638.75 61.80,637.59 63.30,636.43 65.00,635.50 67.00,634.78 69.20,634.15 71.60,633.60 74.20,633.13 77.00,632.71 80.00,632.37 83.20,632.05 86.30,631.75 95.60,631.07 107.90,630.62 120.20,630.29 132.50,630.04 144.80,629.82 157.10,629.60 169.40,629.34 181.70,629.00 194.00,628.57 206.30,628.08 218.60,627.54 230.90,626.95 243.20,626.32 255.50,625.63 267.80,624.91 280.10,624.14 292.40,623.34 304.70,622.50" fill="none" stroke="#54449E" stroke-width="1.1" stroke-opacity="1"/>
<circle cx="59.50" cy="639.71" r="4.0" fill="#54449E"/>
<circle cx="60.50" cy="638.75" r="4.0" fill="#54449E"/>
<circle cx="61.80" cy="637.59" r="4.0" fill="#54449E"/>
<circle cx="63.30" cy="636.43" r="4.0" fill="#54449E"/>
<circle cx="65.00" cy="635.50" r="4.0" fill="#54449E"/>
<circle cx="67.00" cy="634.78" r="4.0" fill="#54449E"/>
<circle cx="69.20" cy="634.15" r="4.0" fill="#54449E"/>
<circle cx="71.60" cy="633.60" r="4.0" fill="#54449E"/>
<circle cx="74.20" cy="633.13" r="4.0" fill="#54449E"/>
<circle cx="77.00" cy="632.71" r="4.0" fill="#54449E"/>
<circle cx="80.00" cy="632.37" r="4.0" fill="#54449E"/>
<circle cx="83.20" cy="632.05" r="4.0" fill="#54449E"/>
<circle cx="86.30" cy="631.75" r="4.0" fill="#54449E"/>
<circle cx="95.60" cy="631.07" r="4.0" fill="#54449E"/>
<circle cx="107.90" cy="630.62" r="4.0" fill="#54449E"/>
<circle cx="120.20" cy="630.29" r="4.0" fill="#54449E"/>
<circle cx="132.50" cy="630.04" r="4.0" fill="#54449E"/>
<circle cx="144.80" cy="629.82" r="4.0" fill="#54449E"/>
<circle cx="157.10" cy="629.60" r="4.0" fill="#54449E"/>
<circle cx="169.40" cy="629.34" r="4.0" fill="#54449E"/>
<circle cx="181.70" cy="629.00" r="4.0" fill="#54449E"/>
<circle cx="194.00" cy="628.57" r="4.0" fill="#54449E"/>
<circle cx="206.30" cy="628.08" r="4.0" fill="#54449E"/>
<circle cx="218.60" cy="627.54" r="4.0" fill="#54449E"/>
<circle cx="230.90" cy="626.95" r="4.0" fill="#54449E"/>
<circle cx="243.20" cy="626.32" r="4.0" fill="#54449E"/>
<circle cx="255.50" cy="625.63" r="4.0" fill="#54449E"/>
<circle cx="267.80" cy="624.91" r="4.0" fill="#54449E"/>
<circle cx="280.10" cy="624.14" r="4.0" fill="#54449E"/>
<circle cx="292.40" cy="623.34" r="4.0" fill="#54449E"/>
<circle cx="304.70" cy="622.50" r="4.0" fill="#54449E"/>
<polyline points="59.50,639.93 60.50,639.70 61.80,639.40 63.30,639.07 65.00,638.71 67.00,638.31 69.20,637.92 71.60,637.57 74.20,637.21 77.00,636.86 80.00,636.51 83.20,636.16 86.30,635.84 95.60,634.94 107.90,633.83 120.20,632.83 132.50,631.90 144.80,631.00 157.10,630.07 169.40,629.08 181.70,627.99 194.00,626.80 206.30,625.56 218.60,624.26 230.90,622.91 243.20,621.50 255.50,620.04 267.80,618.53 280.10,616.97 292.40,615.36 304.70,613.70" fill="none" stroke="#3A7FBF" stroke-width="1.1" stroke-opacity="1"/>
<circle cx="59.50" cy="639.93" r="4.0" fill="#3A7FBF"/>
<circle cx="60.50" cy="639.70" r="4.0" fill="#3A7FBF"/>
<circle cx="61.80" cy="639.40" r="4.0" fill="#3A7FBF"/>
<circle cx="63.30" cy="639.07" r="4.0" fill="#3A7FBF"/>
<circle cx="65.00" cy="638.71" r="4.0" fill="#3A7FBF"/>
<circle cx="67.00" cy="638.31" r="4.0" fill="#3A7FBF"/>
<circle cx="69.20" cy="637.92" r="4.0" fill="#3A7FBF"/>
<circle cx="71.60" cy="637.57" r="4.0" fill="#3A7FBF"/>
<circle cx="74.20" cy="637.21" r="4.0" fill="#3A7FBF"/>
<circle cx="77.00" cy="636.86" r="4.0" fill="#3A7FBF"/>
<circle cx="80.00" cy="636.51" r="4.0" fill="#3A7FBF"/>
<circle cx="83.20" cy="636.16" r="4.0" fill="#3A7FBF"/>
<circle cx="86.30" cy="635.84" r="4.0" fill="#3A7FBF"/>
<circle cx="95.60" cy="634.94" r="4.0" fill="#3A7FBF"/>
<circle cx="107.90" cy="633.83" r="4.0" fill="#3A7FBF"/>
<circle cx="120.20" cy="632.83" r="4.0" fill="#3A7FBF"/>
<circle cx="132.50" cy="631.90" r="4.0" fill="#3A7FBF"/>
<circle cx="144.80" cy="631.00" r="4.0" fill="#3A7FBF"/>
<circle cx="157.10" cy="630.07" r="4.0" fill="#3A7FBF"/>
<circle cx="169.40" cy="629.08" r="4.0" fill="#3A7FBF"/>
<circle cx="181.70" cy="627.99" r="4.0" fill="#3A7FBF"/>
<circle cx="194.00" cy="626.80" r="4.0" fill="#3A7FBF"/>
<circle cx="206.30" cy="625.56" r="4.0" fill="#3A7FBF"/>
<circle cx="218.60" cy="624.26" r="4.0" fill="#3A7FBF"/>
<circle cx="230.90" cy="622.91" r="4.0" fill="#3A7FBF"/>
<circle cx="243.20" cy="621.50" r="4.0" fill="#3A7FBF"/>
<circle cx="255.50" cy="620.04" r="4.0" fill="#3A7FBF"/>
<circle cx="267.80" cy="618.53" r="4.0" fill="#3A7FBF"/>
<circle cx="280.10" cy="616.97" r="4.0" fill="#3A7FBF"/>
<circle cx="292.40" cy="615.36" r="4.0" fill="#3A7FBF"/>
<circle cx="304.70" cy="613.70" r="4.0" fill="#3A7FBF"/>
<polyline points="59.50,639.92 60.50,639.66 61.80,639.32 63.30,638.93 65.00,638.52 67.00,638.07 69.20,637.64 71.60,637.24 74.20,636.86 77.00,636.48 80.00,636.11 83.20,635.75 86.30,635.42 95.60,634.43 107.90,633.14 120.20,631.94 132.50,630.79 144.80,629.65 157.10,628.50 169.40,627.29 181.70,625.99 194.00,624.61 206.30,623.18 218.60,621.71 230.90,620.20 243.20,618.64 255.50,617.04 267.80,615.40 280.10,613.71 292.40,611.98 304.70,610.20" fill="none" stroke="#8ED5B0" stroke-width="1.1" stroke-opacity="1"/>
<circle cx="59.50" cy="639.92" r="4.0" fill="#8ED5B0"/>
<circle cx="60.50" cy="639.66" r="4.0" fill="#8ED5B0"/>
<circle cx="61.80" cy="639.32" r="4.0" fill="#8ED5B0"/>
<circle cx="63.30" cy="638.93" r="4.0" fill="#8ED5B0"/>
<circle cx="65.00" cy="638.52" r="4.0" fill="#8ED5B0"/>
<circle cx="67.00" cy="638.07" r="4.0" fill="#8ED5B0"/>
<circle cx="69.20" cy="637.64" r="4.0" fill="#8ED5B0"/>
<circle cx="71.60" cy="637.24" r="4.0" fill="#8ED5B0"/>
<circle cx="74.20" cy="636.86" r="4.0" fill="#8ED5B0"/>
<circle cx="77.00" cy="636.48" r="4.0" fill="#8ED5B0"/>
<circle cx="80.00" cy="636.11" r="4.0" fill="#8ED5B0"/>
<circle cx="83.20" cy="635.75" r="4.0" fill="#8ED5B0"/>
<circle cx="86.30" cy="635.42" r="4.0" fill="#8ED5B0"/>
<circle cx="95.60" cy="634.43" r="4.0" fill="#8ED5B0"/>
<circle cx="107.90" cy="633.14" r="4.0" fill="#8ED5B0"/>
<circle cx="120.20" cy="631.94" r="4.0" fill="#8ED5B0"/>
<circle cx="132.50" cy="630.79" r="4.0" fill="#8ED5B0"/>
<circle cx="144.80" cy="629.65" r="4.0" fill="#8ED5B0"/>
<circle cx="157.10" cy="628.50" r="4.0" fill="#8ED5B0"/>
<circle cx="169.40" cy="627.29" r="4.0" fill="#8ED5B0"/>
<circle cx="181.70" cy="625.99" r="4.0" fill="#8ED5B0"/>
<circle cx="194.00" cy="624.61" r="4.0" fill="#8ED5B0"/>
<circle cx="206.30" cy="623.18" r="4.0" fill="#8ED5B0"/>
<circle cx="218.60" cy="621.71" r="4.0" fill="#8ED5B0"/>
<circle cx="230.90" cy="620.20" r="4.0" fill="#8ED5B0"/>
<circle cx="243.20" cy="618.64" r="4.0" fill="#8ED5B0"/>
<circle cx="255.50" cy="617.04" r="4.0" fill="#8ED5B0"/>
<circle cx="267.80" cy="615.40" r="4.0" fill="#8ED5B0"/>
<circle cx="280.10" cy="613.71" r="4.0" fill="#8ED5B0"/>
<circle cx="292.40" cy="611.98" r="4.0" fill="#8ED5B0"/>
<circle cx="304.70" cy="610.20" r="4.0" fill="#8ED5B0"/>
<polyline points="59.50,639.90 60.50,639.56 61.80,639.14 63.30,638.67 65.00,638.20 67.00,637.71 69.20,637.31 71.60,637.03 74.20,636.82 77.00,636.65 80.00,636.45 83.20,636.14 86.30,635.64 95.60,633.68 107.90,631.39 120.20,629.59 132.50,627.46 144.80,625.27 157.10,623.38 169.40,621.64 181.70,619.89 194.00,617.97 206.30,615.98 218.60,614.04 230.90,612.17 243.20,610.32 255.50,608.50 267.80,606.70 280.10,604.94 292.40,603.20 304.70,601.50" fill="none" stroke="#F7924B" stroke-width="1.1" stroke-opacity="1"/>
<circle cx="59.50" cy="639.90" r="4.0" fill="#F7924B"/>
<circle cx="60.50" cy="639.56" r="4.0" fill="#F7924B"/>
<circle cx="61.80" cy="639.14" r="4.0" fill="#F7924B"/>
<circle cx="63.30" cy="638.67" r="4.0" fill="#F7924B"/>
<circle cx="65.00" cy="638.20" r="4.0" fill="#F7924B"/>
<circle cx="67.00" cy="637.71" r="4.0" fill="#F7924B"/>
<circle cx="69.20" cy="637.31" r="4.0" fill="#F7924B"/>
<circle cx="71.60" cy="637.03" r="4.0" fill="#F7924B"/>
<circle cx="74.20" cy="636.82" r="4.0" fill="#F7924B"/>
<circle cx="77.00" cy="636.65" r="4.0" fill="#F7924B"/>
<circle cx="80.00" cy="636.45" r="4.0" fill="#F7924B"/>
<circle cx="83.20" cy="636.14" r="4.0" fill="#F7924B"/>
<circle cx="86.30" cy="635.64" r="4.0" fill="#F7924B"/>
<circle cx="95.60" cy="633.68" r="4.0" fill="#F7924B"/>
<circle cx="107.90" cy="631.39" r="4.0" fill="#F7924B"/>
<circle cx="120.20" cy="629.59" r="4.0" fill="#F7924B"/>
<circle cx="132.50" cy="627.46" r="4.0" fill="#F7924B"/>
<circle cx="144.80" cy="625.27" r="4.0" fill="#F7924B"/>
<circle cx="157.10" cy="623.38" r="4.0" fill="#F7924B"/>
<circle cx="169.40" cy="621.64" r="4.0" fill="#F7924B"/>
<circle cx="181.70" cy="619.89" r="4.0" fill="#F7924B"/>
<circle cx="194.00" cy="617.97" r="4.0" fill="#F7924B"/>
<circle cx="206.30" cy="615.98" r="4.0" fill="#F7924B"/>
<circle cx="218.60" cy="614.04" r="4.0" fill="#F7924B"/>
<circle cx="230.90" cy="612.17" r="4.0" fill="#F7924B"/>
<circle cx="243.20" cy="610.32" r="4.0" fill="#F7924B"/>
<circle cx="255.50" cy="608.50" r="4.0" fill="#F7924B"/>
<circle cx="267.80" cy="606.70" r="4.0" fill="#F7924B"/>
<circle cx="280.10" cy="604.94" r="4.0" fill="#F7924B"/>
<circle cx="292.40" cy="603.20" r="4.0" fill="#F7924B"/>
<circle cx="304.70" cy="601.50" r="4.0" fill="#F7924B"/>
<line x1="53" y1="398.9" x2="84.7" y2="398.9" stroke="#C8304A" stroke-width="1.2"/>
<circle cx="68.8" cy="398.9" r="4" fill="#C8304A"/>
<text x="88.3" y="403.80" font-size="14">Kr</text>
<line x1="53" y1="415.7" x2="84.7" y2="415.7" stroke="#F7924B" stroke-width="1.2"/>
<circle cx="68.8" cy="415.7" r="4" fill="#F7924B"/>
<text x="88.3" y="420.60" font-size="14">Ar</text>
<line x1="53" y1="432.4" x2="84.7" y2="432.4" stroke="#8ED5B0" stroke-width="1.2"/>
<circle cx="68.8" cy="432.4" r="4" fill="#8ED5B0"/>
<text x="88.3" y="437.30" font-size="14">O<tspan dy="4" font-size="10">2</tspan></text>
<line x1="53" y1="452.4" x2="84.7" y2="452.4" stroke="#3A7FBF" stroke-width="1.2"/>
<circle cx="68.8" cy="452.4" r="4" fill="#3A7FBF"/>
<text x="88.3" y="457.30" font-size="14">N<tspan dy="4" font-size="10">2</tspan></text>
<line x1="53" y1="472.6" x2="84.7" y2="472.6" stroke="#54449E" stroke-width="1.2"/>
<circle cx="68.8" cy="472.6" r="4" fill="#54449E"/>
<text x="88.3" y="477.50" font-size="14">Xe</text>
<rect x="410.5" y="385.5" width="273.0" height="272.5" fill="none" stroke="#000" stroke-width="1.3"/>
<line x1="422.8" y1="658" x2="422.8" y2="654" stroke="#000" stroke-width="1.1"/>
<line x1="472.46000000000004" y1="658" x2="472.46000000000004" y2="654" stroke="#000" stroke-width="1.1"/>
<line x1="522.12" y1="658" x2="522.12" y2="654" stroke="#000" stroke-width="1.1"/>
<line x1="571.78" y1="658" x2="571.78" y2="654" stroke="#000" stroke-width="1.1"/>
<line x1="621.44" y1="658" x2="621.44" y2="654" stroke="#000" stroke-width="1.1"/>
<line x1="671.1" y1="658" x2="671.1" y2="654" stroke="#000" stroke-width="1.1"/>
<line x1="447.63" y1="658" x2="447.63" y2="655.8" stroke="#000" stroke-width="1.1"/>
<line x1="497.29" y1="658" x2="497.29" y2="655.8" stroke="#000" stroke-width="1.1"/>
<line x1="546.95" y1="658" x2="546.95" y2="655.8" stroke="#000" stroke-width="1.1"/>
<line x1="596.61" y1="658" x2="596.61" y2="655.8" stroke="#000" stroke-width="1.1"/>
<line x1="646.27" y1="658" x2="646.27" y2="655.8" stroke="#000" stroke-width="1.1"/>
<text x="422.8" y="675.2" font-size="14" text-anchor="middle">0.0</text>
<text x="472.46000000000004" y="675.2" font-size="14" text-anchor="middle">0.2</text>
<text x="522.12" y="675.2" font-size="14" text-anchor="middle">0.4</text>
<text x="571.78" y="675.2" font-size="14" text-anchor="middle">0.6</text>
<text x="621.44" y="675.2" font-size="14" text-anchor="middle">0.8</text>
<text x="671.1" y="675.2" font-size="14" text-anchor="middle">1.0</text>
<line x1="410.5" y1="638.8" x2="414.5" y2="638.8" stroke="#000" stroke-width="1.1"/>
<line x1="410.5" y1="591.8199999999999" x2="414.5" y2="591.8199999999999" stroke="#000" stroke-width="1.1"/>
<line x1="410.5" y1="544.8399999999999" x2="414.5" y2="544.8399999999999" stroke="#000" stroke-width="1.1"/>
<line x1="410.5" y1="497.85999999999996" x2="414.5" y2="497.85999999999996" stroke="#000" stroke-width="1.1"/>
<line x1="410.5" y1="450.87999999999994" x2="414.5" y2="450.87999999999994" stroke="#000" stroke-width="1.1"/>
<line x1="410.5" y1="403.8999999999999" x2="414.5" y2="403.8999999999999" stroke="#000" stroke-width="1.1"/>
<line x1="410.5" y1="615.31" x2="412.7" y2="615.31" stroke="#000" stroke-width="1.1"/>
<line x1="410.5" y1="568.3299999999999" x2="412.7" y2="568.3299999999999" stroke="#000" stroke-width="1.1"/>
<line x1="410.5" y1="521.3499999999999" x2="412.7" y2="521.3499999999999" stroke="#000" stroke-width="1.1"/>
<line x1="410.5" y1="474.36999999999995" x2="412.7" y2="474.36999999999995" stroke="#000" stroke-width="1.1"/>
<line x1="410.5" y1="427.38999999999993" x2="412.7" y2="427.38999999999993" stroke="#000" stroke-width="1.1"/>
<text x="405.8" y="643.10" font-size="14" text-anchor="end">0</text>
<text x="405.8" y="596.12" font-size="14" text-anchor="end">10</text>
<text x="405.8" y="549.14" font-size="14" text-anchor="end">20</text>
<text x="405.8" y="502.16" font-size="14" text-anchor="end">30</text>
<text x="405.8" y="455.18" font-size="14" text-anchor="end">40</text>
<text x="405.8" y="408.20" font-size="14" text-anchor="end">50</text>
<text x="547" y="700" font-size="17.7" font-style="italic" text-anchor="middle">Pressure (bar)</text>
<text transform="translate(384.5,521.7) rotate(-90)" x="0" y="0" font-size="17.7" font-style="italic" text-anchor="middle">Kr uptake (cm<tspan dy="-7.5" font-size="12">3</tspan><tspan dy="7.5"> cm</tspan><tspan dy="-7.5" font-size="12">-3</tspan><tspan dy="7.5">)</tspan></text>
<text x="358" y="380.4" font-size="32">d</text>
<text x="437.5" y="406" font-size="14">298K</text>
<polyline points="424.30,639.10 448.10,630.00 472.80,622.00 498.40,613.40 523.60,605.50 548.90,598.80 574.20,593.00 599.00,587.90 624.00,582.60 649.60,577.30 673.20,573.70" fill="none" stroke="#F0168C" stroke-width="1.3" stroke-opacity="1"/>
<polyline points="432.40,638.20 448.90,628.70 473.70,615.30 495.00,605.40 526.70,592.20 551.30,582.90 574.20,573.00 603.80,564.10 623.60,557.80 650.00,550.60 671.70,544.60" fill="none" stroke="#F7924B" stroke-width="1.3" stroke-opacity="1"/>
<polyline points="424.30,639.10 450.50,616.20 472.00,604.20 497.90,585.80 517.10,577.30 542.20,564.10 569.40,552.50 594.70,543.60 621.20,535.20 646.90,527.20 671.20,520.20" fill="none" stroke="#5B48A8" stroke-width="1.3" stroke-opacity="1"/>
<polyline points="424.30,639.10 444.50,611.20 469.50,575.00 487.60,553.70 506.00,536.60 522.90,518.70 558.50,490.80 593.50,466.20 611.00,455.40 629.10,445.50 645.20,436.10 671.00,423.60" fill="none" stroke="#000000" stroke-width="1.3" stroke-opacity="1"/>
<polyline points="426.00,633.20 451.80,568.70 479.40,531.60 506.00,510.10 523.20,501.80 554.90,485.00 571.80,478.80 604.80,470.30 622.40,465.00 654.20,458.30 670.50,454.70" fill="none" stroke="#4A87C2" stroke-width="1.3" stroke-opacity="1"/>
<polyline points="424.30,639.10 448.00,608.20 477.00,582.70 500.00,562.20 527.00,540.20 558.50,520.90 589.10,507.20 610.60,499.50 636.60,490.30 653.70,484.30 670.50,479.00" fill="none" stroke="#9B7A2C" stroke-width="1.3" stroke-opacity="1"/>
<polyline points="424.30,639.10 449.70,611.10 474.70,582.00 497.50,561.10 524.10,538.30 546.50,519.20 571.80,502.80 596.60,487.90 620.00,476.80 645.20,464.30 670.50,456.10" fill="none" stroke="#8CD45E" stroke-width="1.3" stroke-opacity="1"/>
<polyline points="424.30,637.90 448.10,605.20 478.50,572.30 504.70,549.80 529.60,530.10 556.10,515.10 582.60,500.40 608.40,489.10 634.90,478.30 669.30,465.50" fill="none" stroke="#C8385A" stroke-width="1.3" stroke-opacity="1"/>
<polyline points="425.10,631.20 447.70,617.40 473.70,598.20 497.90,577.30 523.60,559.70 548.90,544.10 574.20,526.50 598.30,511.30 624.00,496.30 649.30,481.20 670.50,470.60" fill="none" stroke="#1FE6F2" stroke-width="1.3" stroke-opacity="1"/>
<polyline points="424.40,638.80 447.70,623.50 476.20,602.60 495.60,588.70 521.20,571.80 542.20,556.80 554.90,549.60 574.20,538.50 600.70,524.10 625.30,511.30 654.90,498.70 667.40,492.20" fill="none" stroke="#157A70" stroke-width="1.3" stroke-opacity="1"/>
<polygon points="420.45,641.33 428.15,641.33 424.30,634.63" fill="#fff" stroke="#F0168C" stroke-width="1.6" stroke-linejoin="round"/>
<polygon points="444.25,632.23 451.95,632.23 448.10,625.53" fill="#fff" stroke="#F0168C" stroke-width="1.6" stroke-linejoin="round"/>
<polygon points="468.95,624.23 476.65,624.23 472.80,617.53" fill="#fff" stroke="#F0168C" stroke-width="1.6" stroke-linejoin="round"/>
<polygon points="494.55,615.63 502.25,615.63 498.40,608.93" fill="#fff" stroke="#F0168C" stroke-width="1.6" stroke-linejoin="round"/>
<polygon points="519.75,607.73 527.45,607.73 523.60,601.03" fill="#fff" stroke="#F0168C" stroke-width="1.6" stroke-linejoin="round"/>
<polygon points="545.05,601.03 552.75,601.03 548.90,594.33" fill="#fff" stroke="#F0168C" stroke-width="1.6" stroke-linejoin="round"/>
<polygon points="570.35,595.23 578.05,595.23 574.20,588.53" fill="#fff" stroke="#F0168C" stroke-width="1.6" stroke-linejoin="round"/>
<polygon points="595.15,590.13 602.85,590.13 599.00,583.43" fill="#fff" stroke="#F0168C" stroke-width="1.6" stroke-linejoin="round"/>
<polygon points="620.15,584.83 627.85,584.83 624.00,578.13" fill="#fff" stroke="#F0168C" stroke-width="1.6" stroke-linejoin="round"/>
<polygon points="645.75,579.53 653.45,579.53 649.60,572.83" fill="#fff" stroke="#F0168C" stroke-width="1.6" stroke-linejoin="round"/>
<polygon points="669.35,575.93 677.05,575.93 673.20,569.23" fill="#fff" stroke="#F0168C" stroke-width="1.6" stroke-linejoin="round"/>
<polygon points="428.55,640.43 436.25,640.43 432.40,633.73" fill="#fff" stroke="#F7924B" stroke-width="1.6" stroke-linejoin="round"/>
<polygon points="445.05,630.93 452.75,630.93 448.90,624.23" fill="#fff" stroke="#F7924B" stroke-width="1.6" stroke-linejoin="round"/>
<polygon points="469.85,617.53 477.55,617.53 473.70,610.83" fill="#fff" stroke="#F7924B" stroke-width="1.6" stroke-linejoin="round"/>
<polygon points="491.15,607.63 498.85,607.63 495.00,600.93" fill="#fff" stroke="#F7924B" stroke-width="1.6" stroke-linejoin="round"/>
<polygon points="522.85,594.43 530.55,594.43 526.70,587.73" fill="#fff" stroke="#F7924B" stroke-width="1.6" stroke-linejoin="round"/>
<polygon points="547.45,585.13 555.15,585.13 551.30,578.43" fill="#fff" stroke="#F7924B" stroke-width="1.6" stroke-linejoin="round"/>
<polygon points="570.35,575.23 578.05,575.23 574.20,568.53" fill="#fff" stroke="#F7924B" stroke-width="1.6" stroke-linejoin="round"/>
<polygon points="599.95,566.33 607.65,566.33 603.80,559.63" fill="#fff" stroke="#F7924B" stroke-width="1.6" stroke-linejoin="round"/>
<polygon points="619.75,560.03 627.45,560.03 623.60,553.33" fill="#fff" stroke="#F7924B" stroke-width="1.6" stroke-linejoin="round"/>
<polygon points="646.15,552.83 653.85,552.83 650.00,546.13" fill="#fff" stroke="#F7924B" stroke-width="1.6" stroke-linejoin="round"/>
<polygon points="667.85,546.83 675.55,546.83 671.70,540.13" fill="#fff" stroke="#F7924B" stroke-width="1.6" stroke-linejoin="round"/>
<polygon points="420.45,641.33 428.15,641.33 424.30,634.63" fill="#fff" stroke="#5B48A8" stroke-width="1.6" stroke-linejoin="round"/>
<polygon points="446.65,618.43 454.35,618.43 450.50,611.73" fill="#fff" stroke="#5B48A8" stroke-width="1.6" stroke-linejoin="round"/>
<polygon points="468.15,606.43 475.85,606.43 472.00,599.73" fill="#fff" stroke="#5B48A8" stroke-width="1.6" stroke-linejoin="round"/>
<polygon points="494.05,588.03 501.75,588.03 497.90,581.33" fill="#fff" stroke="#5B48A8" stroke-width="1.6" stroke-linejoin="round"/>
<polygon points="513.25,579.53 520.95,579.53 517.10,572.83" fill="#fff" stroke="#5B48A8" stroke-width="1.6" stroke-linejoin="round"/>
<polygon points="538.35,566.33 546.05,566.33 542.20,559.63" fill="#fff" stroke="#5B48A8" stroke-width="1.6" stroke-linejoin="round"/>
<polygon points="565.55,554.73 573.25,554.73 569.40,548.03" fill="#fff" stroke="#5B48A8" stroke-width="1.6" stroke-linejoin="round"/>
<polygon points="590.85,545.83 598.55,545.83 594.70,539.13" fill="#fff" stroke="#5B48A8" stroke-width="1.6" stroke-linejoin="round"/>
<polygon points="617.35,537.43 625.05,537.43 621.20,530.73" fill="#fff" stroke="#5B48A8" stroke-width="1.6" stroke-linejoin="round"/>
<polygon points="643.05,529.43 650.75,529.43 646.90,522.73" fill="#fff" stroke="#5B48A8" stroke-width="1.6" stroke-linejoin="round"/>
<polygon points="667.35,522.43 675.05,522.43 671.20,515.73" fill="#fff" stroke="#5B48A8" stroke-width="1.6" stroke-linejoin="round"/>
<polygon points="420.45,641.33 428.15,641.33 424.30,634.63" fill="#fff" stroke="#000000" stroke-width="1.6" stroke-linejoin="round"/>
<polygon points="440.65,613.43 448.35,613.43 444.50,606.73" fill="#fff" stroke="#000000" stroke-width="1.6" stroke-linejoin="round"/>
<polygon points="465.65,577.23 473.35,577.23 469.50,570.53" fill="#fff" stroke="#000000" stroke-width="1.6" stroke-linejoin="round"/>
<polygon points="483.75,555.93 491.45,555.93 487.60,549.23" fill="#fff" stroke="#000000" stroke-width="1.6" stroke-linejoin="round"/>
<polygon points="502.15,538.83 509.85,538.83 506.00,532.13" fill="#fff" stroke="#000000" stroke-width="1.6" stroke-linejoin="round"/>
<polygon points="519.05,520.93 526.75,520.93 522.90,514.23" fill="#fff" stroke="#000000" stroke-width="1.6" stroke-linejoin="round"/>
<polygon points="554.65,493.03 562.35,493.03 558.50,486.33" fill="#fff" stroke="#000000" stroke-width="1.6" stroke-linejoin="round"/>
<polygon points="589.65,468.43 597.35,468.43 593.50,461.73" fill="#fff" stroke="#000000" stroke-width="1.6" stroke-linejoin="round"/>
<polygon points="607.15,457.63 614.85,457.63 611.00,450.93" fill="#fff" stroke="#000000" stroke-width="1.6" stroke-linejoin="round"/>
<polygon points="625.25,447.73 632.95,447.73 629.10,441.03" fill="#fff" stroke="#000000" stroke-width="1.6" stroke-linejoin="round"/>
<polygon points="641.35,438.33 649.05,438.33 645.20,431.63" fill="#fff" stroke="#000000" stroke-width="1.6" stroke-linejoin="round"/>
<polygon points="667.15,425.83 674.85,425.83 671.00,419.13" fill="#fff" stroke="#000000" stroke-width="1.6" stroke-linejoin="round"/>
<polygon points="422.15,635.43 429.85,635.43 426.00,628.73" fill="#fff" stroke="#4A87C2" stroke-width="1.6" stroke-linejoin="round"/>
<polygon points="447.95,570.93 455.65,570.93 451.80,564.23" fill="#fff" stroke="#4A87C2" stroke-width="1.6" stroke-linejoin="round"/>
<polygon points="475.55,533.83 483.25,533.83 479.40,527.13" fill="#fff" stroke="#4A87C2" stroke-width="1.6" stroke-linejoin="round"/>
<polygon points="502.15,512.33 509.85,512.33 506.00,505.63" fill="#fff" stroke="#4A87C2" stroke-width="1.6" stroke-linejoin="round"/>
<polygon points="519.35,504.03 527.05,504.03 523.20,497.33" fill="#fff" stroke="#4A87C2" stroke-width="1.6" stroke-linejoin="round"/>
<polygon points="551.05,487.23 558.75,487.23 554.90,480.53" fill="#fff" stroke="#4A87C2" stroke-width="1.6" stroke-linejoin="round"/>
<polygon points="567.95,481.03 575.65,481.03 571.80,474.33" fill="#fff" stroke="#4A87C2" stroke-width="1.6" stroke-linejoin="round"/>
<polygon points="600.95,472.53 608.65,472.53 604.80,465.83" fill="#fff" stroke="#4A87C2" stroke-width="1.6" stroke-linejoin="round"/>
<polygon points="618.55,467.23 626.25,467.23 622.40,460.53" fill="#fff" stroke="#4A87C2" stroke-width="1.6" stroke-linejoin="round"/>
<polygon points="650.35,460.53 658.05,460.53 654.20,453.83" fill="#fff" stroke="#4A87C2" stroke-width="1.6" stroke-linejoin="round"/>
<polygon points="666.65,456.93 674.35,456.93 670.50,450.23" fill="#fff" stroke="#4A87C2" stroke-width="1.6" stroke-linejoin="round"/>
<polygon points="420.45,641.33 428.15,641.33 424.30,634.63" fill="#fff" stroke="#9B7A2C" stroke-width="1.6" stroke-linejoin="round"/>
<polygon points="444.15,610.43 451.85,610.43 448.00,603.73" fill="#fff" stroke="#9B7A2C" stroke-width="1.6" stroke-linejoin="round"/>
<polygon points="473.15,584.93 480.85,584.93 477.00,578.23" fill="#fff" stroke="#9B7A2C" stroke-width="1.6" stroke-linejoin="round"/>
<polygon points="496.15,564.43 503.85,564.43 500.00,557.73" fill="#fff" stroke="#9B7A2C" stroke-width="1.6" stroke-linejoin="round"/>
<polygon points="523.15,542.43 530.85,542.43 527.00,535.73" fill="#fff" stroke="#9B7A2C" stroke-width="1.6" stroke-linejoin="round"/>
<polygon points="554.65,523.13 562.35,523.13 558.50,516.43" fill="#fff" stroke="#9B7A2C" stroke-width="1.6" stroke-linejoin="round"/>
<polygon points="585.25,509.43 592.95,509.43 589.10,502.73" fill="#fff" stroke="#9B7A2C" stroke-width="1.6" stroke-linejoin="round"/>
<polygon points="606.75,501.73 614.45,501.73 610.60,495.03" fill="#fff" stroke="#9B7A2C" stroke-width="1.6" stroke-linejoin="round"/>
<polygon points="632.75,492.53 640.45,492.53 636.60,485.83" fill="#fff" stroke="#9B7A2C" stroke-width="1.6" stroke-linejoin="round"/>
<polygon points="649.85,486.53 657.55,486.53 653.70,479.83" fill="#fff" stroke="#9B7A2C" stroke-width="1.6" stroke-linejoin="round"/>
<polygon points="666.65,481.23 674.35,481.23 670.50,474.53" fill="#fff" stroke="#9B7A2C" stroke-width="1.6" stroke-linejoin="round"/>
<polygon points="420.45,641.33 428.15,641.33 424.30,634.63" fill="#fff" stroke="#8CD45E" stroke-width="1.6" stroke-linejoin="round"/>
<polygon points="445.85,613.33 453.55,613.33 449.70,606.63" fill="#fff" stroke="#8CD45E" stroke-width="1.6" stroke-linejoin="round"/>
<polygon points="470.85,584.23 478.55,584.23 474.70,577.53" fill="#fff" stroke="#8CD45E" stroke-width="1.6" stroke-linejoin="round"/>
<polygon points="493.65,563.33 501.35,563.33 497.50,556.63" fill="#fff" stroke="#8CD45E" stroke-width="1.6" stroke-linejoin="round"/>
<polygon points="520.25,540.53 527.95,540.53 524.10,533.83" fill="#fff" stroke="#8CD45E" stroke-width="1.6" stroke-linejoin="round"/>
<polygon points="542.65,521.43 550.35,521.43 546.50,514.73" fill="#fff" stroke="#8CD45E" stroke-width="1.6" stroke-linejoin="round"/>
<polygon points="567.95,505.03 575.65,505.03 571.80,498.33" fill="#fff" stroke="#8CD45E" stroke-width="1.6" stroke-linejoin="round"/>
<polygon points="592.75,490.13 600.45,490.13 596.60,483.43" fill="#fff" stroke="#8CD45E" stroke-width="1.6" stroke-linejoin="round"/>
<polygon points="616.15,479.03 623.85,479.03 620.00,472.33" fill="#fff" stroke="#8CD45E" stroke-width="1.6" stroke-linejoin="round"/>
<polygon points="641.35,466.53 649.05,466.53 645.20,459.83" fill="#fff" stroke="#8CD45E" stroke-width="1.6" stroke-linejoin="round"/>
<polygon points="666.65,458.33 674.35,458.33 670.50,451.63" fill="#fff" stroke="#8CD45E" stroke-width="1.6" stroke-linejoin="round"/>
<polygon points="424.30,633.70 428.30,637.90 424.30,642.10 420.30,637.90" fill="#fff" stroke="#C8385A" stroke-width="1.6"/>
<polygon points="448.10,601.00 452.10,605.20 448.10,609.40 444.10,605.20" fill="#fff" stroke="#C8385A" stroke-width="1.6"/>
<polygon points="478.50,568.10 482.50,572.30 478.50,576.50 474.50,572.30" fill="#fff" stroke="#C8385A" stroke-width="1.6"/>
<polygon points="504.70,545.60 508.70,549.80 504.70,554.00 500.70,549.80" fill="#fff" stroke="#C8385A" stroke-width="1.6"/>
<polygon points="529.60,525.90 533.60,530.10 529.60,534.30 525.60,530.10" fill="#fff" stroke="#C8385A" stroke-width="1.6"/>
<polygon points="556.10,510.90 560.10,515.10 556.10,519.30 552.10,515.10" fill="#fff" stroke="#C8385A" stroke-width="1.6"/>
<polygon points="582.60,496.20 586.60,500.40 582.60,504.60 578.60,500.40" fill="#fff" stroke="#C8385A" stroke-width="1.6"/>
<polygon points="608.40,484.90 612.40,489.10 608.40,493.30 604.40,489.10" fill="#fff" stroke="#C8385A" stroke-width="1.6"/>
<polygon points="634.90,474.10 638.90,478.30 634.90,482.50 630.90,478.30" fill="#fff" stroke="#C8385A" stroke-width="1.6"/>
<polygon points="669.30,461.30 673.30,465.50 669.30,469.70 665.30,465.50" fill="#fff" stroke="#C8385A" stroke-width="1.6"/>
<polygon points="421.25,633.43 428.95,633.43 425.10,626.73" fill="#fff" stroke="#1FE6F2" stroke-width="1.6" stroke-linejoin="round"/>
<polygon points="443.85,619.63 451.55,619.63 447.70,612.93" fill="#fff" stroke="#1FE6F2" stroke-width="1.6" stroke-linejoin="round"/>
<polygon points="469.85,600.43 477.55,600.43 473.70,593.73" fill="#fff" stroke="#1FE6F2" stroke-width="1.6" stroke-linejoin="round"/>
<polygon points="494.05,579.53 501.75,579.53 497.90,572.83" fill="#fff" stroke="#1FE6F2" stroke-width="1.6" stroke-linejoin="round"/>
<polygon points="519.75,561.93 527.45,561.93 523.60,555.23" fill="#fff" stroke="#1FE6F2" stroke-width="1.6" stroke-linejoin="round"/>
<polygon points="545.05,546.33 552.75,546.33 548.90,539.63" fill="#fff" stroke="#1FE6F2" stroke-width="1.6" stroke-linejoin="round"/>
<polygon points="570.35,528.73 578.05,528.73 574.20,522.03" fill="#fff" stroke="#1FE6F2" stroke-width="1.6" stroke-linejoin="round"/>
<polygon points="594.45,513.53 602.15,513.53 598.30,506.83" fill="#fff" stroke="#1FE6F2" stroke-width="1.6" stroke-linejoin="round"/>
<polygon points="620.15,498.53 627.85,498.53 624.00,491.83" fill="#fff" stroke="#1FE6F2" stroke-width="1.6" stroke-linejoin="round"/>
<polygon points="645.45,483.43 653.15,483.43 649.30,476.73" fill="#fff" stroke="#1FE6F2" stroke-width="1.6" stroke-linejoin="round"/>
<polygon points="666.65,472.83 674.35,472.83 670.50,466.13" fill="#fff" stroke="#1FE6F2" stroke-width="1.6" stroke-linejoin="round"/>
<polygon points="420.55,641.03 428.25,641.03 424.40,634.33" fill="#fff" stroke="#157A70" stroke-width="1.6" stroke-linejoin="round"/>
<polygon points="443.85,625.73 451.55,625.73 447.70,619.03" fill="#fff" stroke="#157A70" stroke-width="1.6" stroke-linejoin="round"/>
<polygon points="472.35,604.83 480.05,604.83 476.20,598.13" fill="#fff" stroke="#157A70" stroke-width="1.6" stroke-linejoin="round"/>
<polygon points="491.75,590.93 499.45,590.93 495.60,584.23" fill="#fff" stroke="#157A70" stroke-width="1.6" stroke-linejoin="round"/>
<polygon points="517.35,574.03 525.05,574.03 521.20,567.33" fill="#fff" stroke="#157A70" stroke-width="1.6" stroke-linejoin="round"/>
<polygon points="538.35,559.03 546.05,559.03 542.20,552.33" fill="#fff" stroke="#157A70" stroke-width="1.6" stroke-linejoin="round"/>
<polygon points="551.05,551.83 558.75,551.83 554.90,545.13" fill="#fff" stroke="#157A70" stroke-width="1.6" stroke-linejoin="round"/>
<polygon points="570.35,540.73 578.05,540.73 574.20,534.03" fill="#fff" stroke="#157A70" stroke-width="1.6" stroke-linejoin="round"/>
<polygon points="596.85,526.33 604.55,526.33 600.70,519.63" fill="#fff" stroke="#157A70" stroke-width="1.6" stroke-linejoin="round"/>
<polygon points="621.45,513.53 629.15,513.53 625.30,506.83" fill="#fff" stroke="#157A70" stroke-width="1.6" stroke-linejoin="round"/>
<polygon points="651.05,500.93 658.75,500.93 654.90,494.23" fill="#fff" stroke="#157A70" stroke-width="1.6" stroke-linejoin="round"/>
<polygon points="663.55,494.43 671.25,494.43 667.40,487.73" fill="#fff" stroke="#157A70" stroke-width="1.6" stroke-linejoin="round"/>
<line x1="605.1" y1="489.5" x2="573.5" y2="456.5" stroke="#000" stroke-width="1.3"/>
<polygon points="570.3,453 577.2,456.5 573.9,459.6" fill="#000"/>
<text x="590.2" y="411.2" font-size="14">MOF-Cu-H</text>
<text x="505.5" y="439.7" font-size="14" fill="#C8385A">MIP-203-Suc</text>
<text x="415.5" y="512.7" font-size="14" fill="#4A87C2">Co-squarate</text>
<line x1="12.1" y1="727.8" x2="42.9" y2="727.8" stroke="#000000" stroke-width="1.3"/>
<polygon points="23.80,730.47 33.00,730.47 28.40,722.47" fill="#fff" stroke="#000000" stroke-width="2.2" stroke-linejoin="round"/>
<text x="48.3" y="732.30" font-size="14">MOF-Cu-H</text>
<line x1="132.3" y1="727.8" x2="163.10000000000002" y2="727.8" stroke="#4A87C2" stroke-width="1.3"/>
<polygon points="143.80,730.47 153.00,730.47 148.40,722.47" fill="#fff" stroke="#4A87C2" stroke-width="2.2" stroke-linejoin="round"/>
<text x="168" y="732.30" font-size="14">Co-squarate</text>
<line x1="263.8" y1="727.8" x2="294.6" y2="727.8" stroke="#8CD45E" stroke-width="1.3"/>
<polygon points="276.20,730.47 285.40,730.47 280.80,722.47" fill="#fff" stroke="#8CD45E" stroke-width="2.2" stroke-linejoin="round"/>
<text x="299.6" y="732.30" font-size="14">ZJU-74a-Pd*</text>
<line x1="404.2" y1="727.8" x2="435.0" y2="727.8" stroke="#C8385A" stroke-width="1.3"/>
<polygon points="420.20,723.10 424.90,727.80 420.20,732.50 415.50,727.80" fill="#fff" stroke="#C8385A" stroke-width="2.0"/>
<text x="440.2" y="732.30" font-size="14">MIP-203-Suc</text>
<line x1="541.1" y1="727.8" x2="571.9" y2="727.8" stroke="#1FE6F2" stroke-width="1.3"/>
<polygon points="552.30,730.47 561.50,730.47 556.90,722.47" fill="#fff" stroke="#1FE6F2" stroke-width="2.2" stroke-linejoin="round"/>
<text x="577.4" y="732.30" font-size="14">Ag-MOF-303</text>
<line x1="12.1" y1="749.4" x2="42.9" y2="749.4" stroke="#9B7A2C" stroke-width="1.3"/>
<polygon points="23.80,752.07 33.00,752.07 28.40,744.07" fill="#fff" stroke="#9B7A2C" stroke-width="2.2" stroke-linejoin="round"/>
<text x="48.3" y="753.90" font-size="14">SBMOF-1</text>
<line x1="132.3" y1="749.4" x2="163.10000000000002" y2="749.4" stroke="#157A70" stroke-width="1.3"/>
<polygon points="143.80,752.07 153.00,752.07 148.40,744.07" fill="#fff" stroke="#157A70" stroke-width="2.2" stroke-linejoin="round"/>
<text x="168" y="753.90" font-size="14">Co<tspan dy="4" font-size="10">3</tspan><tspan dy="-4">(HCOO)</tspan><tspan dy="4" font-size="10">6</tspan></text>
<line x1="263.8" y1="749.4" x2="294.6" y2="749.4" stroke="#5B48A8" stroke-width="1.3"/>
<polygon points="276.20,752.07 285.40,752.07 280.80,744.07" fill="#fff" stroke="#5B48A8" stroke-width="2.2" stroke-linejoin="round"/>
<text x="299.6" y="753.90" font-size="14">HOF-FJU-46*</text>
<line x1="404.2" y1="749.4" x2="435.0" y2="749.4" stroke="#F7924B" stroke-width="1.3"/>
<polygon points="415.60,752.07 424.80,752.07 420.20,744.07" fill="#fff" stroke="#F7924B" stroke-width="2.2" stroke-linejoin="round"/>
<text x="440.2" y="753.90" font-size="14">CC3</text>
<line x1="541.1" y1="749.4" x2="571.9" y2="749.4" stroke="#F0168C" stroke-width="1.3"/>
<polygon points="552.30,752.07 561.50,752.07 556.90,744.07" fill="#fff" stroke="#F0168C" stroke-width="2.2" stroke-linejoin="round"/>
<text x="577.4" y="753.90" font-size="14">CROFOUR-1-Ni</text>
</svg></body></html>
